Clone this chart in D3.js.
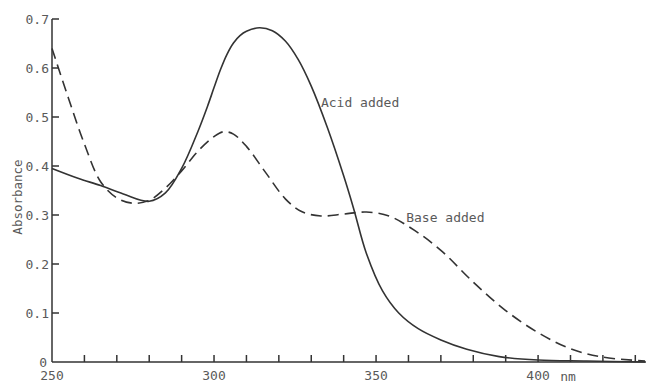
<!DOCTYPE html>
<html><head><meta charset="utf-8">
<script src="https://cdn.jsdelivr.net/npm/d3@7"></script>
<style>body{margin:0;background:#fff}svg{display:block}text{font-family:"DejaVu Sans Mono",monospace;fill:#5a5a5a}</style>
</head><body><svg id="c" width="646" height="384"></svg>
<script>
const acidNm  = [250,258,265,272,280,285,290,295,298,300,302,304,306,308,310,314,318,322,326,330,335,340,343,347,352,357,363,370,378,388,400,415,433];
const acidAbs = [0.395,0.375,0.36,0.343,0.328,0.345,0.395,0.47,0.522,0.56,0.597,0.628,0.651,0.666,0.675,0.682,0.676,0.655,0.617,0.563,0.478,0.38,0.315,0.222,0.145,0.1,0.068,0.045,0.026,0.011,0.004,0.002,0.0];
const baseNm  = [250,255,260,265,270,275,280,285,290,295,300,303,306,310,316,322,327,333,340,347,354,362,370,380,390,400,410,420,433];
const baseAbs = [0.64,0.54,0.445,0.368,0.335,0.324,0.33,0.355,0.39,0.43,0.46,0.47,0.465,0.44,0.386,0.333,0.307,0.298,0.302,0.306,0.298,0.268,0.228,0.163,0.105,0.06,0.027,0.01,0.002];
const yTicks = [0,0.1,0.2,0.3,0.4,0.5,0.6,0.7];
const yTickLabels = ["0","0.1","0.2","0.3","0.4","0.5","0.6","0.7"];
const xTicks = [260,270,280,290,300,310,320,330,340,350,360,370,380,390,400,410,420,430];
const xLabelVals = [250,300,350,400];
const xLabels = ["250","300","350","400"];
const seriesLabels = ["Acid added","Base added"];

const svg = d3.select("#c");
const x = d3.scaleLinear().domain([250,433.3]).range([52,646]);
const y = d3.scaleLinear().domain([0,0.7]).range([362,19]);
const ink = "#333";

// y axis
svg.append("line").attr("x1",x(250)).attr("x2",x(250)).attr("y1",y(0.7)).attr("y2",y(0)).attr("stroke",ink).attr("stroke-width",1.5);
svg.selectAll(".yt").data(yTicks.slice(1)).enter().append("line")
  .attr("x1",x(250)).attr("x2",x(250)+7).attr("y1",d=>y(d)).attr("y2",d=>y(d)).attr("stroke",ink).attr("stroke-width",1.5);
svg.selectAll(".yl").data(yTicks).enter().append("text")
  .attr("x",d=>d===0?47:49).attr("y",d=>y(d)).attr("dy","0.36em").attr("text-anchor","end")
  .attr("font-size",13).text((d,i)=>yTickLabels[i]);
svg.append("text").attr("transform",`translate(22,197) rotate(-90)`).attr("text-anchor","middle")
  .attr("font-size",12.5).text("Absorbance");

// x axis
svg.append("line").attr("x1",x(250)).attr("x2",646).attr("y1",y(0)).attr("y2",y(0)).attr("stroke",ink).attr("stroke-width",1.5);
svg.selectAll(".xt").data(xTicks).enter().append("line")
  .attr("x1",d=>x(d)).attr("x2",d=>x(d)).attr("y1",y(0)).attr("y2",y(0)-7).attr("stroke",ink).attr("stroke-width",1.5);
svg.selectAll(".xl").data(xLabelVals).enter().append("text")
  .attr("x",d=>x(d)).attr("y",380).attr("text-anchor","middle").attr("font-size",13).text((d,i)=>xLabels[i]);
svg.append("text").attr("x",568).attr("y",381).attr("text-anchor","middle").attr("font-size",13).text("nm");

// curves
const line = d3.line().x(d=>x(d[0])).y(d=>y(d[1])).curve(d3.curveCatmullRom.alpha(0.5));
svg.append("path").attr("d",line(acidNm.map((n,i)=>[n,acidAbs[i]])))
  .attr("fill","none").attr("stroke",ink).attr("stroke-width",1.6);
svg.append("path").attr("d",line(baseNm.map((n,i)=>[n,baseAbs[i]])))
  .attr("fill","none").attr("stroke",ink).attr("stroke-width",1.6).attr("stroke-dasharray","11,6");

// labels
svg.append("text").attr("x",x(333)).attr("y",y(0.52)).attr("font-size",13).text(seriesLabels[0]);
svg.append("text").attr("x",x(359.3)).attr("y",y(0.286)).attr("font-size",13).text(seriesLabels[1]);
</script></body></html>
